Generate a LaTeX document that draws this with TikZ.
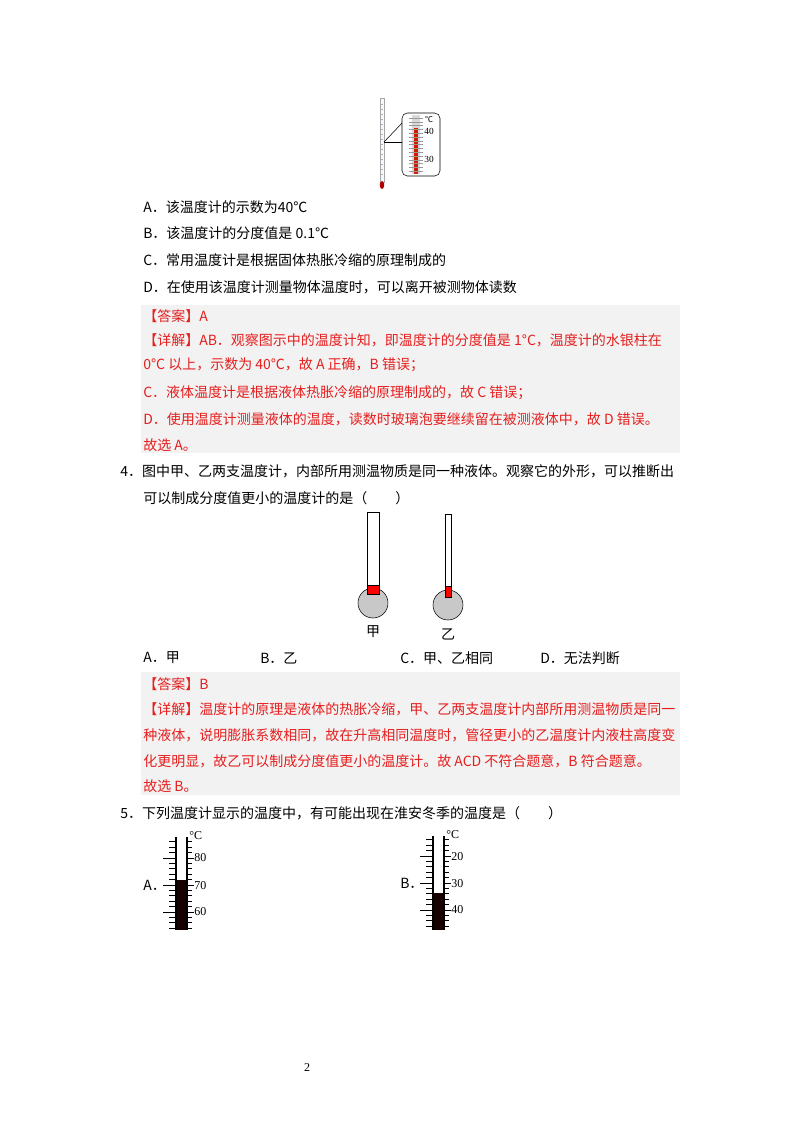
\documentclass[tikz,border=0pt]{standalone}
\usepackage{fontspec}
\setmainfont{Carlito}
\newfontfamily\cjk{Noto Sans CJK SC}
\newfontfamily\serf{Liberation Serif}
\definecolor{ans}{RGB}{230,30,30}
\definecolor{boxg}{RGB}{242,242,242}
\definecolor{bulbg}{RGB}{200,200,200}
\begin{document}
\begin{tikzpicture}[x=0.75pt,y=-0.75pt,
  txt/.style={anchor=west,inner sep=0pt,font=\cjk\fontsize{10.5}{12}\selectfont},
  rtxt/.style={txt,text=ans},
  lab/.style={inner sep=0pt,font=\serf\fontsize{9}{10}\selectfont}]
\useasboundingbox (0,0) rectangle (800,1132);
\fill[white] (0,0) rectangle (800,1132);
% top thermometer
\draw[gray!70,fill=blue!3] (380,98) rectangle (384,182);
\foreach \i in {0,...,14}{\draw[gray!60,very thin] (381,{104+\i*5}) -- (383,{104+\i*5});}
\fill[red!70!black] (382,185) ellipse (2.2 and 4);
\draw[thin] (384,142) -- (404,121);
\draw[thin] (384,142) -- (404,142);
\draw[rounded corners=4,fill=white] (402,113) rectangle (440,176);
\fill[gray!30] (412,115) rectangle (420,174);
\fill[red!75!black!80!orange] (414,128) rectangle (418,174);
\foreach \i in {0,...,14}{\draw[gray!80,very thin] (409,{118+\i*3.8}) -- (423,{118+\i*3.8});}
\node[lab,font=\cjk\fontsize{6}{6}\selectfont] (tc) at (429,119) {℃};
\node[lab,font=\serf\fontsize{7}{7}\selectfont] (t40) at (429,131) {40};
\node[lab,font=\serf\fontsize{7}{7}\selectfont] (t30) at (429,159) {30};
% options Q3
\node[txt] (a3) at (143,207) {A．该温度计的示数为40℃};
\node[txt] (b3) at (143,233) {B．该温度计的分度值是 0.1℃};
\node[txt] (c3) at (143,260) {C．常用温度计是根据固体热胀冷缩的原理制成的};
\node[txt] (d3) at (143,287) {D．在使用该温度计测量物体温度时，可以离开被测物体读数};
\fill[boxg] (141,305) rectangle (680,453);
\node[rtxt] (ans3) at (143,316) {【答案】A};
\node[rtxt] (e1) at (143,340) {【详解】AB．观察图示中的温度计知，即温度计的分度值是 1°C，温度计的水银柱在};
\node[rtxt] (e2) at (143,365) {0°C 以上，示数为 40℃，故 A 正确，B 错误；};
\node[rtxt] (e3) at (143,393) {C．液体温度计是根据液体热胀冷缩的原理制成的，故 C 错误；};
\node[rtxt] (e4) at (143,419) {D．使用温度计测量液体的温度，读数时玻璃泡要继续留在被测液体中，故 D 错误。};
\node[rtxt] (e5) at (143,445) {故选 A。};
% Q4
\node[txt] (q4) at (120,471) {4．图中甲、乙两支温度计，内部所用测温物质是同一种液体。观察它的外形，可以推断出};
\node[txt] (q4b) at (143,498) {可以制成分度值更小的温度计的是（\quad\quad）};
\draw[fill=bulbg] (373,603) circle (15);
\draw[fill=white] (367,512) rectangle (379,585);
\draw[fill=red] (367,585) rectangle (379,594);
\draw[fill=bulbg] (448,605) circle (15);
\draw[fill=white] (445,514) rectangle (451,586);
\draw[fill=red] (445,586) rectangle (451,597);
\node[txt,anchor=center] (jia) at (373,632) {甲};
\node[txt,anchor=center] (yi) at (448,634) {乙};
\node[txt] (o1) at (143,658) {A．甲};
\node[txt] (o2) at (260,658) {B．乙};
\node[txt] (o3) at (400,658) {C．甲、乙相同};
\node[txt] (o4) at (540,658) {D．无法判断};
\fill[boxg] (141,672) rectangle (680,795);
\node[rtxt] (ans4) at (143,684) {【答案】B};
\node[rtxt] (f1) at (143,709) {【详解】温度计的原理是液体的热胀冷缩，甲、乙两支温度计内部所用测温物质是同一};
\node[rtxt] (f2) at (143,735) {种液体，说明膨胀系数相同，故在升高相同温度时，管径更小的乙温度计内液柱高度变};
\node[rtxt] (f3) at (143,761) {化更明显，故乙可以制成分度值更小的温度计。故 ACD 不符合题意，B 符合题意。};
\node[rtxt] (f4) at (143,786) {故选 B。};
% Q5
\node[txt] (q5) at (120,813) {5．下列温度计显示的温度中，有可能出现在淮安冬季的温度是（\quad\quad）};
% thermometer A
\fill[black!85!red!60!black] (176,880) rectangle (187,930);
\draw[line width=1.2pt] (176,837) -- (176,930) (187,837) -- (187,930);
\foreach \i in {0,...,16}{
  \pgfmathsetmacro\yy{928-\i*5.4}
  \draw (169,\yy) -- (176,\yy) (187,\yy) -- (192,\yy);}
\foreach \yy in {912,885,858}{\draw (163,\yy) -- (176,\yy) (187,\yy) -- (194,\yy);}
\node[lab,anchor=west] (ac) at (189,836) {°C};
\node[lab,anchor=west] (a80) at (194,858) {80};
\node[lab,anchor=west] (a70) at (194,886) {70};
\node[lab,anchor=west] (a60) at (194,912) {60};
\node[txt] (la) at (143,885) {A．};
% thermometer B
\fill[black!85!red!60!black] (433,893) rectangle (444,930);
\draw[line width=1.2pt] (433,836) -- (433,930) (444,836) -- (444,930);
\foreach \i in {0,...,16}{
  \pgfmathsetmacro\yy{926-\i*5.4}
  \draw (426,\yy) -- (433,\yy) (444,\yy) -- (449,\yy);}
\foreach \yy in {910,883,856}{\draw (420,\yy) -- (433,\yy) (444,\yy) -- (451,\yy);}
\node[lab,anchor=west] (bc) at (446,835) {°C};
\node[lab,anchor=west] (b20) at (451,857) {20};
\node[lab,anchor=west] (b30) at (451,884) {30};
\node[lab,anchor=west] (b40) at (451,910) {40};
\node[txt] (lb) at (400,883) {B．};
\node[lab] (pg) at (307,1068) {2};
\end{tikzpicture}
\end{document}
